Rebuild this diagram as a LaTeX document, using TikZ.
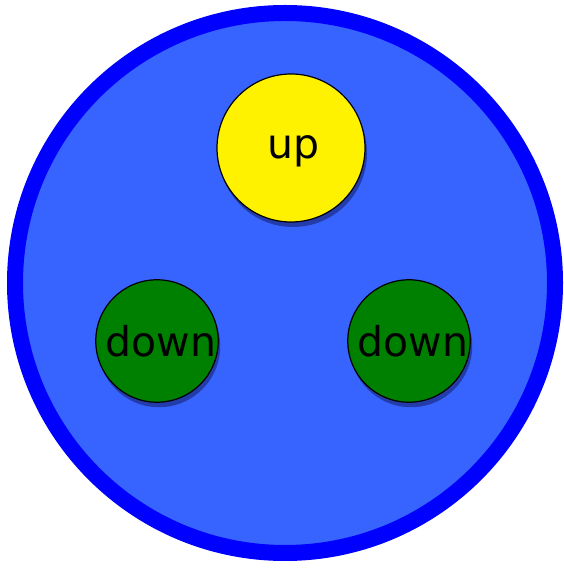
\documentclass[tikz,border=0pt]{standalone}
\usepackage{fontspec}
\setmainfont{DejaVu Sans}
\usetikzlibrary{shadows}
\definecolor{cellblue}{RGB}{55,100,255}
\definecolor{darkshade}{RGB}{35,60,170}
\definecolor{greyshade}{RGB}{165,165,165}
\definecolor{quarkgreen}{RGB}{0,128,0}
\tikzset{
  quark/.style={draw=black, line width=1.2pt, circle, inner sep=0pt, font=\fontsize{41}{46}\selectfont,
    drop shadow={shadow xshift=2pt, shadow yshift=-5pt, fill=darkshade, opacity=1}},
}
\begin{document}
\begin{tikzpicture}[x=1pt, y=1pt]
    \useasboundingbox (0,0) rectangle (564,570);
    \node[draw=blue, line width=16pt, circle, fill=cellblue, minimum size=540pt, inner sep=0pt,
      drop shadow={shadow xshift=2pt, shadow yshift=-4pt, fill=greyshade, opacity=1}] (proton) at (285,287) {};
    \node[quark, fill=yellow, minimum size=148pt, text depth=2pt] (up) at (291,422) {\hspace*{6pt}up};
    \node[quark, fill=quarkgreen, minimum size=120pt] (downl) at (157,229) {\hspace*{8pt}down};
    \node[quark, fill=quarkgreen, minimum size=120pt] (downr) at (409,229) {\hspace*{8pt}down};
\end{tikzpicture}
\end{document}
